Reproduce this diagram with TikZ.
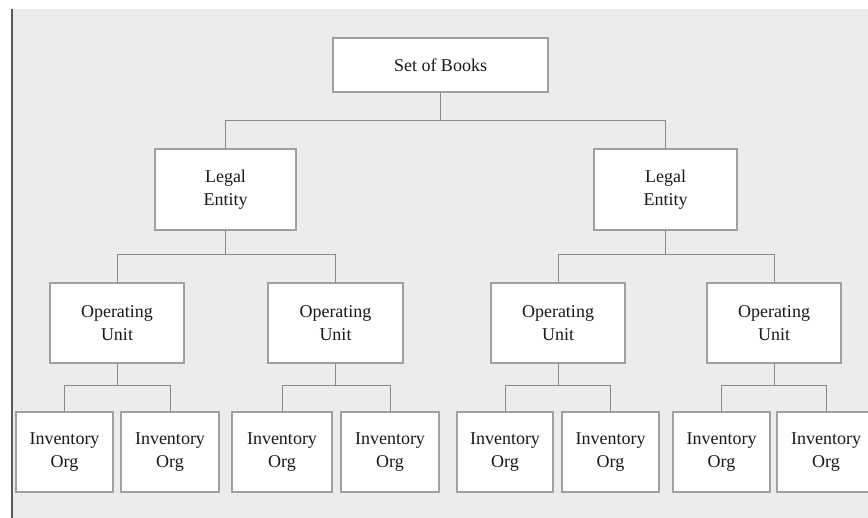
\documentclass[tikz,border=0pt]{standalone}
\usepackage{fontspec}
\setmainfont{Liberation Serif}
\definecolor{bggray}{HTML}{ECECEC}
\definecolor{edgegray}{HTML}{A0A0A0}
\definecolor{linegray}{HTML}{8A8A8A}
\definecolor{framegray}{HTML}{5A5A5A}
\begin{document}
\begin{tikzpicture}[x=1pt,y=-1pt,
  orgbox/.style={draw=edgegray, line width=1.1pt, fill=white, inner sep=0pt, outer sep=0pt,
    align=center, font=\fontsize{18}{23}\selectfont, text=black!90},
  conn/.style={draw=linegray, line width=1pt}]
\useasboundingbox (0,0) rectangle (868,518);
\clip (0,0) rectangle (868,518);
\fill[white] (0,0) rectangle (868,518);
\fill[bggray] (13,9) rectangle (868,518);
\draw[framegray, line width=2pt] (11.5,9) -- (11.5,518);

\coordinate (y1) at (0,120.5);
\coordinate (y2) at (0,255);
\coordinate (y3) at (0,386);

\node[orgbox, minimum width=215pt, minimum height=54pt] (sob) at (440.5,65) {Set of Books};
\node[orgbox, minimum width=141pt, minimum height=81pt] (le1) at (225.5,189.5) {Legal\\Entity};
\node[orgbox, minimum width=143pt, minimum height=81pt] (le2) at (665.5,189.5) {Legal\\Entity};

\node[orgbox, minimum width=134pt, minimum height=80pt] (ou1) at (117,323) {Operating\\Unit};
\node[orgbox, minimum width=135pt, minimum height=80pt] (ou2) at (335.5,323) {Operating\\Unit};
\node[orgbox, minimum width=134pt, minimum height=80pt] (ou3) at (558,323) {Operating\\Unit};
\node[orgbox, minimum width=134pt, minimum height=80pt] (ou4) at (774,323) {Operating\\Unit};

\node[orgbox, minimum width=97pt, minimum height=80pt] (io1) at (64.5,452) {Inventory\\Org};
\node[orgbox, minimum width=98pt, minimum height=80pt] (io2) at (170,452) {Inventory\\Org};
\node[orgbox, minimum width=100pt, minimum height=80pt] (io3) at (282,452) {Inventory\\Org};
\node[orgbox, minimum width=98pt, minimum height=80pt] (io4) at (390,452) {Inventory\\Org};
\node[orgbox, minimum width=96pt, minimum height=80pt] (io5) at (505,452) {Inventory\\Org};
\node[orgbox, minimum width=97pt, minimum height=80pt] (io6) at (610.5,452) {Inventory\\Org};
\node[orgbox, minimum width=97pt, minimum height=80pt] (io7) at (721.5,452) {Inventory\\Org};
\node[orgbox, minimum width=98pt, minimum height=80pt] (io8) at (826,452) {Inventory\\Org};

% level 1
\draw[conn] (sob.south) -- (sob.south |- y1);
\draw[conn] (le1.north) |- (le2.north |- y1) -- (le2.north);
% level 2
\draw[conn] (le1.south) -- (le1.south |- y2);
\draw[conn] (ou1.north) |- (ou2.north |- y2) -- (ou2.north);
\draw[conn] (le2.south) -- (le2.south |- y2);
\draw[conn] (ou3.north) |- (ou4.north |- y2) -- (ou4.north);
% level 3
\draw[conn] (ou1.south) -- (ou1.south |- y3);
\draw[conn] (io1.north) |- (io2.north |- y3) -- (io2.north);
\draw[conn] (ou2.south) -- (ou2.south |- y3);
\draw[conn] (io3.north) |- (io4.north |- y3) -- (io4.north);
\draw[conn] (ou3.south) -- (ou3.south |- y3);
\draw[conn] (io5.north) |- (io6.north |- y3) -- (io6.north);
\draw[conn] (ou4.south) -- (ou4.south |- y3);
\draw[conn] (io7.north) |- (io8.north |- y3) -- (io8.north);
\end{tikzpicture}
\end{document}
